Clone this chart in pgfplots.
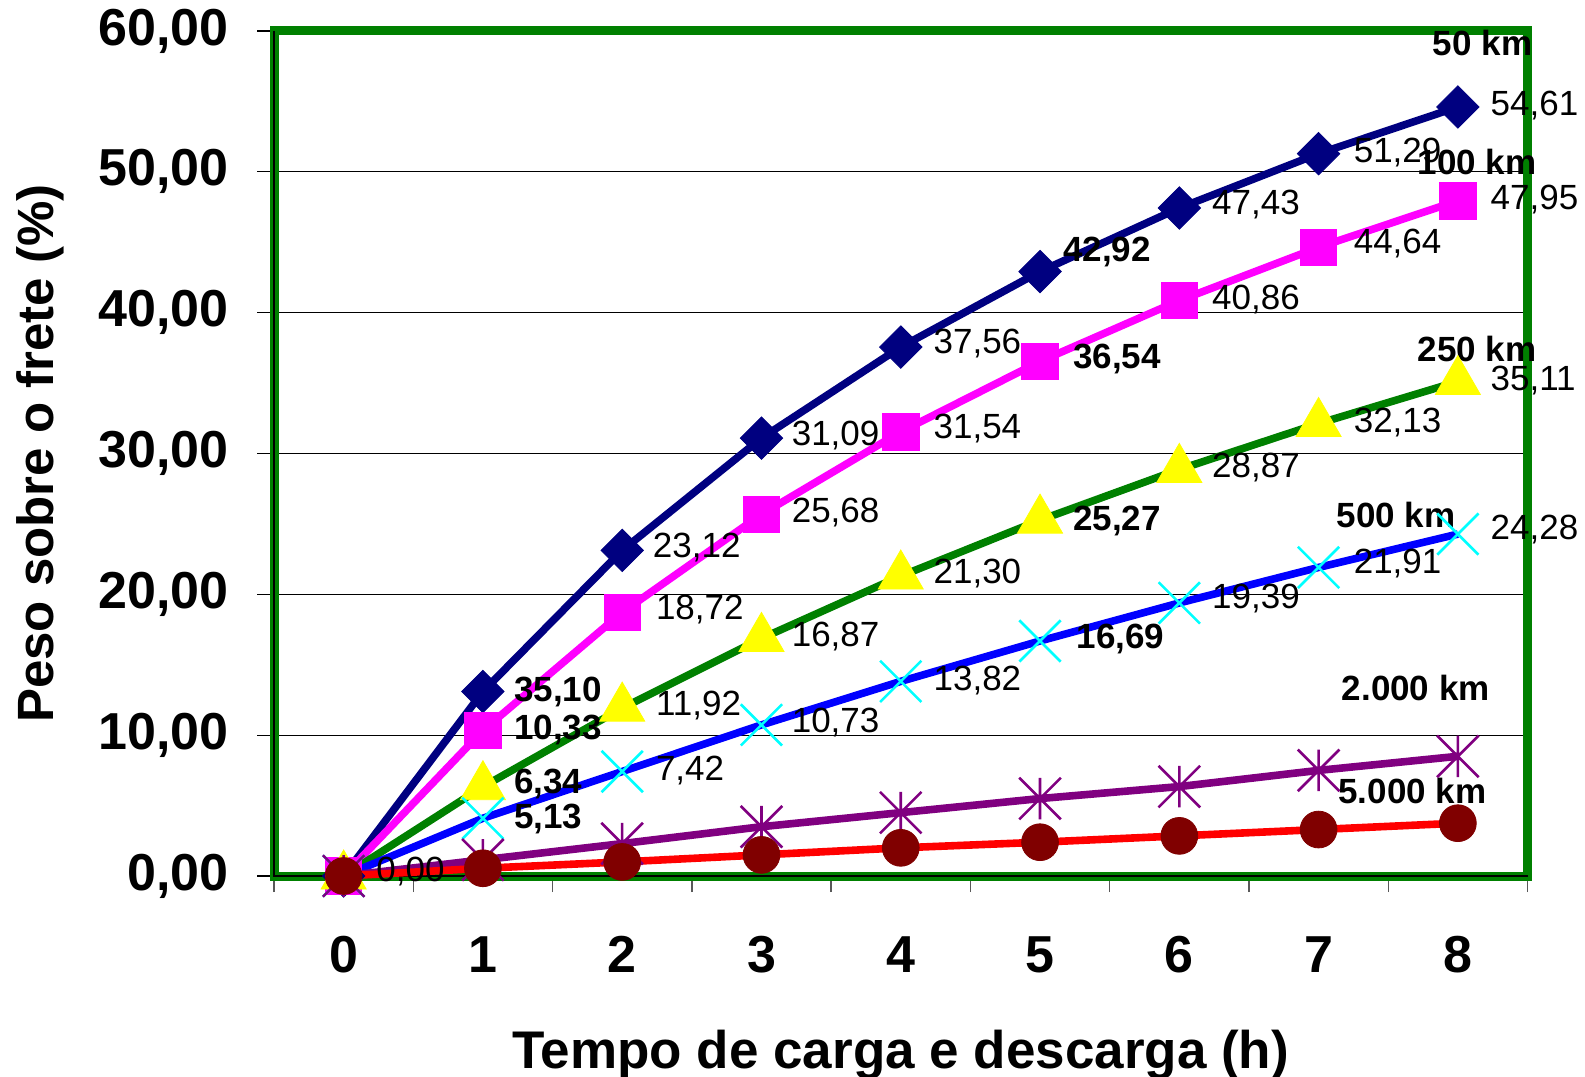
\documentclass[border=0pt]{standalone}
\usepackage{pgfplots}
\pgfplotsset{compat=1.18}
\usepackage{pgfplotstable}
\usepackage{fontspec}
\setmainfont{Liberation Sans}

\definecolor{navyS}{RGB}{0,0,128}
\definecolor{magS}{RGB}{255,0,255}
\definecolor{grnS}{RGB}{0,128,0}
\definecolor{yelS}{RGB}{255,255,0}
\definecolor{bluS}{RGB}{0,0,255}
\definecolor{cyaS}{RGB}{0,255,255}
\definecolor{purS}{RGB}{128,0,128}
\definecolor{redS}{RGB}{255,0,0}
\definecolor{marS}{RGB}{128,0,0}

\tikzset{
  vlab/.style={anchor=west, inner sep=0pt, font=\fontsize{17.5}{20}\selectfont},
  blab/.style={anchor=west, inner sep=0pt, font=\bfseries\fontsize{17.5}{20}\selectfont},
}

% star marker: diagonal cross plus a vertical bar
\pgfdeclareplotmark{xstar}{%
  \pgfpathmoveto{\pgfqpoint{-\pgfplotmarksize}{-\pgfplotmarksize}}%
  \pgfpathlineto{\pgfqpoint{\pgfplotmarksize}{\pgfplotmarksize}}%
  \pgfpathmoveto{\pgfqpoint{-\pgfplotmarksize}{\pgfplotmarksize}}%
  \pgfpathlineto{\pgfqpoint{\pgfplotmarksize}{-\pgfplotmarksize}}%
  \pgfpathmoveto{\pgfqpoint{0pt}{-\pgfplotmarksize}}%
  \pgfpathlineto{\pgfqpoint{0pt}{\pgfplotmarksize}}%
  \pgfusepathqstroke}

% weight of loading/unloading time on freight, by distance
\pgfplotstableread{
x k50 k100 k250 k500 k2000 k5000
0 0 0 0 0 0 0
1 13.10 10.33 6.34 4.10 1.15 0.55
2 23.12 18.72 11.92 7.42 2.30 1.00
3 31.09 25.68 16.87 10.73 3.50 1.50
4 37.56 31.54 21.30 13.82 4.50 2.00
5 42.92 36.54 25.27 16.69 5.50 2.40
6 47.43 40.86 28.87 19.39 6.35 2.85
7 51.29 44.64 32.13 21.91 7.50 3.30
8 54.61 47.95 35.11 24.28 8.50 3.75
}\fretedata

\begin{document}
\begin{tikzpicture}
\begin{axis}[
  scale only axis,
  width=626.75pt, height=422.5pt,
  xmin=-0.5, xmax=8.5, ymin=0, ymax=60,
  clip=false,
  axis line style={draw=grnS, line width=4.5pt},
  tick align=outside,
  xtick={0,...,8},
  xticklabels={0,1,2,3,4,5,6,7,8},
  major x tick style={draw=none},
  minor xtick={-0.5,0.5,...,8.5},
  minor x tick style={draw=black!65, line width=0.7pt},
  minor tick length=8pt,
  ytick={0,10,...,60},
  yticklabels={{0,00},{10,00},{20,00},{30,00},{40,00},{50,00},{60,00}},
  major tick length=8.5pt,
  ytick style={draw=black, line width=0.6pt},
  ymajorgrids,
  grid style={black, line width=0.6pt},
  xtick pos=bottom, ytick pos=left,
  tick label style={font=\bfseries\fontsize{26}{30}\selectfont, text=black},
  yticklabel style={xshift=-10.8pt},
  xticklabel style={yshift=-18.3pt},
  xlabel={Tempo de carga e descarga (h)},
  ylabel={Peso sobre o frete (\%)},
  xlabel style={at={(axis description cs:0.5,-0.2272)}, anchor=base,
    font=\bfseries\fontsize{26.5}{30}\selectfont},
  ylabel style={at={(axis description cs:-0.1867,0.5)}, anchor=center,
    font=\bfseries\fontsize{25.5}{30}\selectfont},
]
\coordinate (bl) at (rel axis cs:0,0);
\coordinate (tr) at (rel axis cs:1,1);
\draw[black, line width=0.8pt] (rel axis cs:0,1) -- (rel axis cs:0,0) -- (rel axis cs:1,0);

\addplot[color=navyS, line width=3.8pt, mark=square*, mark size=7.5pt,
  mark options={rotate=45, solid, line width=0.4pt, fill=navyS}]
  table[x=x, y=k50] {\fretedata};
\addplot[color=magS, line width=3.8pt, mark=square*, mark size=9.1pt,
  mark options={solid, line width=0.4pt, fill=magS}]
  table[x=x, y=k100] {\fretedata};
\addplot[color=grnS, line width=3.8pt, mark=triangle*, mark size=13pt,
  mark options={solid, line width=0.4pt, draw=yelS, fill=yelS}]
  table[x=x, y=k250] {\fretedata};
\addplot[color=bluS, line width=3.8pt, mark=x, mark size=14.6pt,
  mark options={solid, line width=1.3pt, draw=cyaS}]
  table[x=x, y=k500] {\fretedata};
\addplot[color=purS, line width=3.8pt, mark=xstar, mark size=10.4pt,
  mark options={solid, line width=1.3pt, draw=purS}]
  table[x=x, y=k2000] {\fretedata};
\addplot[color=redS, line width=3.8pt, mark=*, mark size=9.2pt,
  mark options={solid, line width=0.4pt, draw=marS, fill=marS}]
  table[x=x, y=k5000] {\fretedata};

% value labels
\node[vlab] at (axis cs:0.233,0.29) {0,00};
\node[blab] at (axis cs:1.222,13.1) {35,10};
\node[vlab] at (axis cs:2.218,23.3) {23,12};
\node[vlab] at (axis cs:3.215,31.3) {31,09};
\node[vlab] at (axis cs:4.233,37.8) {37,56};
\node[blab] at (axis cs:5.164,44.3) {42,92};
\node[vlab] at (axis cs:6.233,47.7) {47,43};
\node[vlab] at (axis cs:7.25,51.4) {51,29};
\node[vlab] at (axis cs:8.233,54.7) {54,61};

\node[blab] at (axis cs:1.222,10.34) {10,33};
\node[vlab] at (axis cs:2.24,18.9) {18,72};
\node[vlab] at (axis cs:3.215,25.8) {25,68};
\node[vlab] at (axis cs:4.233,31.8) {31,54};
\node[blab] at (axis cs:5.236,36.7) {36,54};
\node[vlab] at (axis cs:6.233,40.9) {40,86};
\node[vlab] at (axis cs:7.25,44.9) {44,64};
\node[vlab] at (axis cs:8.233,48.0) {47,95};

\node[blab] at (axis cs:1.222,6.53) {6,34};
\node[vlab] at (axis cs:2.24,12.1) {11,92};
\node[vlab] at (axis cs:3.215,17.0) {16,87};
\node[vlab] at (axis cs:4.233,21.5) {21,30};
\node[blab] at (axis cs:5.236,25.2) {25,27};
\node[vlab] at (axis cs:6.233,29.0) {28,87};
\node[vlab] at (axis cs:7.25,32.2) {32,13};
\node[vlab] at (axis cs:8.233,35.2) {35,11};

\node[blab] at (axis cs:1.222,4.02) {5,13};
\node[vlab] at (axis cs:2.24,7.47) {7,42};
\node[vlab] at (axis cs:3.215,10.9) {10,73};
\node[vlab] at (axis cs:4.233,13.9) {13,82};
\node[blab] at (axis cs:5.26,16.8) {16,69};
\node[vlab] at (axis cs:6.233,19.7) {19,39};
\node[vlab] at (axis cs:7.25,22.2) {21,91};
\node[vlab] at (axis cs:8.233,24.6) {24,28};

% series names
\node[blab] at (axis cs:7.818,59.15) {50 km};
\node[blab] at (axis cs:7.71,50.7) {100 km};
\node[blab] at (axis cs:7.71,37.4) {250 km};
\node[blab] at (axis cs:7.127,25.6) {500 km};
\node[blab] at (axis cs:7.164,13.35) {2.000 km};
\node[blab] at (axis cs:7.14,6.03) {5.000 km};
\end{axis}
\pgfresetboundingbox
\path[use as bounding box] ([xshift=-137pt,yshift=-100pt]bl) rectangle ([xshift=28.75pt,yshift=15.5pt]tr);
\end{tikzpicture}
\end{document}
